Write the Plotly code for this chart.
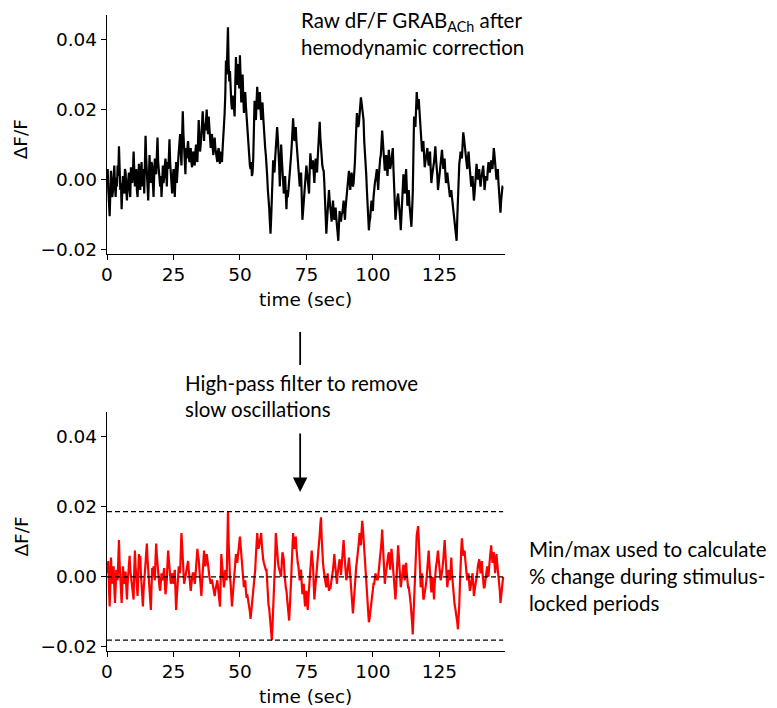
import numpy as np
import plotly.graph_objects as go

# ---------------- data (values in units of 1e-3 dF/F) ----------------
# main samples every 0.5 s, plus in-between samples at +0.25 s
dt = 0.5
raw_milli = [
    0.5, -3, -10.5, 2.5, -5, 3, -2, 0.5, 4, 9.5,
    -3, -8.5, 1, -4, 2, -6, 0, -3, 3.5, -1,
    8, -2, 3, -5, 4.5, -3, 5, 0, -4, 12.5,
    2, -6, 7, -1, 4, -5, 6, 1.5, 12, 3,
    -2, -5, 4, 0.5, 6, -2, 3, 11.5, 2, -4,
    3, -5, 5, 1, 8, 13, 4, 19.5, 8, 1.5,
    6, 11, 5, 9, 3.5, 8, 4, 10, 5, 17,
    8, 12, 19.5, 11, 14, 20, 13, 15, 9, 13,
    7, 12, 8, 5, 9, 4.5, 7, 9, 14, 24.5,
    30, 43.5, 28, 25, 20, 22.5, 18, 35, 27, 30,
    35.5, 22, 30, 19, 25, 18, 11, 7, 3, 1,
    6, 22.5, 17, 26.5, 20, 25, 17, 22, 14, 9,
    5, -3, -8, -15.5, -6, 5.5, 2, 10, 15, 9,
    -2, 10, 3, -4, 1, -8.5, -5, -1, 4, 10,
    17.5, 11, 15, 8, 4.5, -2, 2, -11.5, -6, 1,
    4, 0.5, -4, 7.5, 3, 5.5, -1, 6, 2, 10,
    16.5, 8, 4, 2.5, -5, -15.5, -9, -3, -8, -12,
    -6, -11.5, -8, -14, -17.5, -9, -12, -9.5, -6, -11.5,
    -6, -1, 2.5, -3, 2, -2, 1, 10, 19, 15,
    18, 23.5, 20, 17, 6, 1.5, -8, -14.5, -11, -6,
    -9, -2, 0, 3, -3, 4.5, 7, 14, 8, 2.5,
    7, 1, 8.5, 3, 5.5, 9, -3, -11.5, -6, -4,
    -8, -14.5, -7, 1.5, -4, 3, -7.5, -3, -10, -13.5,
    -4, 18, 15, 25, 20, 21, 14, 8, 11, 3.5,
    6, 9, 4, 8, -1, 2, 5, 9.5, 4, -3,
    1, 5, 8.5, 3, 6, -1, 2, -2, -5, -3,
    -7, -10.5, -13, -17.5, -5, 4.5, 8, 6, 13.5, 10,
    7, 3, 8, 2, -2, 1, -6, -1, 4.5, 0,
    3, -2, 2, 4, -3, 1, 0, 5, 2, 5.5,
    3, 9, 5, 0, 3, -4, -9.5, -3, -2,
]
raw_mid_milli = [
    3, -6, -4, -1, -3, 4, -5, -2, 1, 2,
    -1, -3, -2, 3, -3, -2, 2, -5, 0, 2,
    3, 1, -3, 0, 1, 2, -2, 3, 4, 6,
    -2, 0, 2, 5, -1, 1, 3, 7, 5, 1,
    1, -1, -1, 4, 3, 5, 6, 5, -2, 0,
    -1, 1, -1, 5, 10, 8, 12, 13, 4, 9,
    9, 7, 8, 5, 7, 5, 8, 6, 11, 11,
    10, 16, 14, 16, 17, 15, 18, 11, 12, 9,
    10, 9, 6, 8, 6, 8, 5, 12, 19, 34,
    38, 33, 31, 22, 24, 19, 27, 30, 33, 26,
    28, 27, 24, 23, 21, 14, 9, 4, 5, 2,
    14, 19, 22, 23, 22, 20, 21, 18, 11, 7,
    1, -5, -12, -11, 0, 3, 6, 12, 12, 4,
    4, 6, -1, -2, -4, -3, -3, 2, 7, 14,
    14, 13, 11, 6, 1, 0, -5, -9, -2, 2,
    2, -2, 3, 5, 4, 2, 3, 4, 6, 13,
    12, 6, 3, -1, -10, -12, -6, -6, -10, -9,
    -9, -10, -11, -16, -13, -11, -10, -8, -9, -8,
    -3, 1, 0, 0, 0, -1, 5, 15, 17, 16,
    21, 22, 18, 11, 4, -3, -11, -12, -8, -8,
    -5, -1, 2, 0, 1, 6, 10, 11, 5, 5,
    4, 5, 6, 4, 7, 3, -7, -9, -5, -6,
    -11, -10, -3, -2, 0, -2, -5, -7, -12, -9,
    7, 16, 20, 22, 23, 17, 11, 10, 7, 5,
    7, 6, 6, 3, 1, 4, 7, 6, 1, -1,
    3, 7, 6, 4, 2, 1, 0, -4, -4, -5,
    -9, -12, -15, -11, 0, 6, 7, 10, 12, 9,
    5, 6, 5, 0, -1, -3, -4, 2, 2, 1,
    0, 0, 3, 1, -1, 0, 3, 3, 4, 4,
    6, 7, 2, 1, -1, -7, -6, -2,
]
hp_milli = [
    1, 4.5, -8.5, 5.5, -2, 3, -7.5, 2, -1, 10.5,
    0, -7.5, 3, -2, 1.5, -6.5, 2, 6, 0, -3,
    -6.5, 7.5, 1, -5.5, 6.5, 6, -3, -8.5, 0, 4,
    9.5, 2, -4, -9.5, 2.5, 3, -1, 9.5, 3, -2,
    -4, 1, -1, 2.5, -5, -1, 7.5, 3, -2, 1,
    -2, 2, -9.5, -3, 3, 1, 12.5, 5, -2, 0,
    2, 4.5, -1, -4, 0, 1, -2, 3, 8, 5,
    -1, -5.5, 2, 7.5, 3, 6.5, 4, 0, -2, -1,
    -3, -5.5, -2, -1, -4, -8.5, 6.5, 1, -3, 2,
    -1, 18.6, 3, -2, -8.5, -4, 2, 6.5, 4, 8,
    11.5, 7, 2, -3, -1, -6, -6, -9, -12, -8,
    -4, -2, 6, 12.5, 8, 10, 12.5, 6, 4, 3,
    2, -6, -9, -15, -18.1, -10, -3, 12.5, 7, 3,
    2, 0, 7, 5, -2, -4, -8, -12.5, -6, 4,
    12.5, 8, 11.5, 5, 3, -1, 2, -5, -2, -8.5,
    -4, -9.5, -3, 2, 7.5, 3, -6.5, -2, 2, 8,
    12, 17, 6, 2, -1, -3, 1, -4, -3.5, -1,
    2, 6.5, 1, -2, 3, 5, 0.5, 6, 10.5, 3,
    -1, 2, 5.5, 0, -4, -10.5, -5, 2, 4.5, 8,
    12.5, 9, 16, 11, 3, -3, -8, -13, -10, -7,
    -3, -2, 1, -1, 0, 3, 6, 13.5, 5, -2,
    2, 4, 7, 2, 8, 3, -2, -6.5, 2, 9,
    4, -3, 0, 3.5, -1, 4, -2, -3, -6, -10,
    -16.5, -8, 5, 12, 14.5, 7, -3, 1, -6.5, -5,
    -2, 3, 7.5, 1, -4.5, 0, -6.5, 2, 4, 7.5,
    3, -1, 1, 5, 10.5, 4, -3, 2, -1, 5.5,
    -2, -6, -9, -11, -15, -8, 5, 11, 6, 7.5,
    3, -1, 1, -4, -2, 1, -5.5, -3, 0, 3,
    5, 1, 4.5, -2, -3, 1, 3, 0, 5, 9,
    4, 7, 1, 6.5, 2, -1, -7.5, -3, 0,
]
hp_mid_milli = [
    3, -3, -2, 1, 1, -3, -3, 1, 5, 4,
    -4, -3, 0, 0, -3, -2, 5, 2, -2, -4,
    2, 3, -3, 1, 3, 1, -6, -4, 3, 7,
    5, -2, -7, -3, 0, 1, 5, 6, 0, -3,
    -2, 0, 1, -2, -3, 4, 5, 0, -1, 0,
    0, -4, -6, 0, 2, 7, 9, 1, -1, 1,
    3, 2, -3, -2, 1, -1, 0, 6, 6, 2,
    -3, -2, 5, 5, 5, 5, 2, -1, -1, -2,
    -4, -4, -2, -3, -6, -1, 4, -1, -1, 0,
    9, 10, 0, -5, -6, -1, 4, 5, 6, 10,
    9, 4, -1, -2, -4, -5, -8, -10, -10, -6,
    -3, 2, 9, 10, 9, 11, 9, 5, 3, 2,
    -2, -8, -12, -17, -14, -7, 5, 9, 5, 2,
    1, 4, 6, 1, -3, -6, -10, -9, -1, 9,
    10, 10, 8, 4, 1, 1, -2, -3, -6, -6,
    -7, -6, 0, 5, 5, -2, -4, 0, 5, 10,
    15, 11, 4, 0, -2, -1, -2, -3, -2, 1,
    4, 4, -1, 1, 4, 3, 3, 8, 7, 1,
    0, 4, 3, -2, -7, -8, -2, 3, 6, 10,
    11, 13, 14, 7, 0, -6, -11, -12, -8, -5,
    -2, -1, 0, -1, 2, 4, 10, 9, 1, 0,
    3, 6, 5, 5, 6, 0, -4, -3, 6, 6,
    0, -1, 2, 1, 2, 1, -3, -4, -8, -13,
    -12, -2, 9, 13, 11, 2, -1, -3, -6, -3,
    0, 5, 4, -2, -2, -3, -2, 3, 6, 5,
    1, 0, 3, 8, 7, 0, -1, 0, 2, 1,
    -4, -8, -10, -13, -12, -2, 8, 8, 7, 5,
    1, 0, -2, -3, -1, -2, -4, -1, 1, 4,
    3, 3, 1, -3, -1, 2, 1, 3, 7, 6,
    6, 4, 4, 4, 0, -4, -5, -2,
]
x_ticks = [0, 25, 50, 75, 100, 125]
y_ticks = [-0.02, 0.0, 0.02, 0.04]


def interleave(main, mid):
    vals, times = [], []
    for i, v in enumerate(main):
        vals.append(v)
        times.append(i * dt)
        if i < len(mid):
            vals.append(mid[i])
            times.append(i * dt + dt / 2)
    return np.array(times), np.array(vals) * 1e-3


t_raw, raw = interleave(raw_milli, raw_mid_milli)
t_hp, hp = interleave(hp_milli, hp_mid_milli)
hp_max = float(hp.max())
hp_min = float(hp.min())

# ---------------- geometry (reference pixels; page has an 8px body margin) ----------------
OFF = 8
W, H = 777 - OFF, 708 - OFF
AX_L, AX_R = 106.7, 505.0
TOP_T, TOP_B = 15.0, 253.8
SHIFT = 397.3
BOT_T, BOT_B = TOP_T + SHIFT, TOP_B + SHIFT
ML = AX_L - OFF
MR = W - (AX_R - OFF)
MT = TOP_T - OFF
MB = H - (BOT_B - OFF)
PH = H - MT - MB
PW = W - ML - MR


def py(p):  # reference pixel y -> paper y
    return (H - MB - (p - OFF)) / PH


def px(p):  # reference pixel x -> paper x
    return ((p - OFF) - ML) / PW


fig = go.Figure()
fig.add_trace(go.Scatter(x=t_raw, y=raw, mode="lines", line=dict(color="black", width=2.2),
                         xaxis="x", yaxis="y", showlegend=False))
fig.add_trace(go.Scatter(x=t_hp, y=hp, mode="lines", line=dict(color="#ff0000", width=2.2),
                         xaxis="x2", yaxis="y2", showlegend=False))
for yv in [hp_max, 0.0, hp_min]:
    fig.add_trace(go.Scatter(x=[0, t_hp[-1]], y=[yv, yv], mode="lines",
                             line=dict(color="black", width=1.2, dash="5px,3px"),
                             xaxis="x2", yaxis="y2", showlegend=False, hoverinfo="skip"))

FS = 18.5
tickfont = dict(family="DejaVu Sans", size=FS, color="black")
xr = [0, 149.7]
yr = [-0.0212, 0.0470]
axis_common = dict(showline=True, linecolor="black", linewidth=1.3, ticks="outside",
                   ticklen=5, tickwidth=1.3, tickcolor="black", showgrid=False,
                   zeroline=False, tickfont=tickfont, mirror=False)

fig.update_layout(
    width=W, height=H,
    margin=dict(l=ML, r=MR, t=MT, b=MB, pad=0),
    paper_bgcolor="white", plot_bgcolor="white",
    xaxis=dict(domain=[0, 1], anchor="y", range=xr, tickvals=x_ticks,
               ticklabelstandoff=-1, **axis_common),
    yaxis=dict(domain=[py(TOP_B), 1], anchor="x", range=yr, tickvals=y_ticks,
               tickformat=".2f", **axis_common),
    xaxis2=dict(domain=[0, 1], anchor="y2", range=xr, tickvals=x_ticks,
                ticklabelstandoff=-1, **axis_common),
    yaxis2=dict(domain=[0, py(BOT_T)], anchor="x2", range=yr, tickvals=y_ticks,
                tickformat=".2f", **axis_common),
)

lab = dict(family="DejaVu Sans", size=FS, color="black")
txt = dict(family="Lato", size=20.5, color="black")
ann = []
ann.append(dict(text="ΔF/F", xref="paper", yref="paper", x=px(21), y=py(139), textangle=-90,
                showarrow=False, font=lab, xanchor="center", yanchor="middle", borderpad=0))
ann.append(dict(text="ΔF/F", xref="paper", yref="paper", x=px(21), y=py(139 + SHIFT),
                textangle=-90, showarrow=False, font=lab, xanchor="center", yanchor="middle",
                borderpad=0))
ann.append(dict(text="time (sec)", xref="paper", yref="paper", x=px(305), y=py(TOP_B + 46),
                showarrow=False, font=lab, xanchor="center", yanchor="middle", borderpad=0))
ann.append(dict(text="time (sec)", xref="paper", yref="paper", x=px(305), y=py(BOT_B + 46),
                showarrow=False, font=lab, xanchor="center", yanchor="middle", borderpad=0))
lines = [
    ("Raw dF/F GRAB<sub>ACh</sub> after", 300, 22),
    ("hemodynamic correction", 300, 47),
    ("High-pass filter to remove", 184, 383),
    ("slow oscillations", 184, 409),
    ("Min/max used to calculate", 528, 549),
    ("% change during stimulus-", 528, 576),
    ("locked periods", 528, 603),
]
for s, x0, y0 in lines:
    ann.append(dict(text=s, xref="paper", yref="paper", x=px(x0), y=py(y0), showarrow=False,
                    font=txt, xanchor="left", yanchor="middle", borderpad=0))
# down arrow
ann.append(dict(text="", xref="paper", yref="paper", x=px(300), y=py(492), ax=0, ay=-60,
                axref="pixel", ayref="pixel", showarrow=True, arrowhead=2, arrowsize=1.6,
                arrowwidth=1.8, arrowcolor="black"))
# double arrow spanning min/max
ann.append(dict(text="", xref="x2", yref="y2", x=154.7, y=hp_min, ax=154.7, ay=hp_max,
                axref="x2", ayref="y2", showarrow=True, arrowhead=2, startarrowhead=2,
                arrowside="end+start", arrowsize=1, startarrowsize=1, arrowwidth=1.1,
                arrowcolor="black"))
fig.update_layout(annotations=ann)
fig.add_shape(type="line", xref="paper", yref="paper", x0=px(300), x1=px(300), y0=py(332),
              y1=py(365), line=dict(color="black", width=1.8))

fig.write_html("out.html")
